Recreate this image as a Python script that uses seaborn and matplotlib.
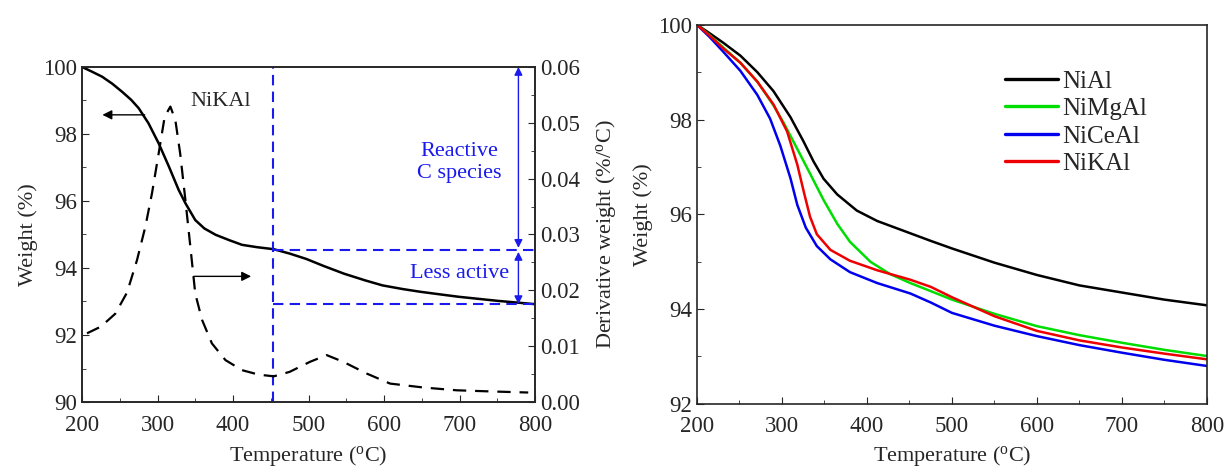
import numpy as np
import pandas as pd
import matplotlib
matplotlib.use("Agg")
import matplotlib.pyplot as plt
from matplotlib.ticker import MultipleLocator
import seaborn as sns

# ---- du lieu: duong TG cua NiKAl (trai) ----
t_nikal = [200, 213, 226.5, 240, 253, 265, 275, 288, 301.5, 315, 328, 337, 350, 362, 377, 395, 412, 432, 454, 475, 497, 520, 547, 575, 598, 625, 648, 675, 699, 750, 800]
w_nikal = [100, 99.86, 99.71, 99.5, 99.26, 99.02, 98.77, 98.32, 97.72, 97.03, 96.33, 95.93, 95.43, 95.18, 94.99, 94.83, 94.69, 94.62, 94.56, 94.43, 94.27, 94.06, 93.83, 93.63, 93.48, 93.37, 93.29, 93.21, 93.14, 93.02, 92.92]

# duong dao ham (DTG)
t_dtg = [206.6, 225, 244, 259.6, 272.8, 283.9, 292.7, 301.5, 309.5, 317, 323.6, 330, 336.9, 343.5, 350, 359, 372, 390, 412, 434, 454, 475, 502, 524, 546, 577, 608, 652, 696, 740, 791]
d_dtg = [0.0123, 0.0135, 0.0158, 0.0196, 0.0254, 0.0314, 0.0374, 0.0445, 0.0511, 0.0529, 0.0505, 0.0445, 0.0362, 0.0278, 0.0194, 0.0147, 0.0105, 0.0075, 0.0057, 0.0049, 0.0046, 0.0054, 0.0072, 0.0084, 0.0072, 0.0051, 0.0033, 0.0026, 0.0021, 0.0019, 0.0017]

# ---- du lieu: 4 mau (phai) ----
t_nial = [200, 215, 231, 251, 271, 290, 310, 325, 337, 349, 365, 388, 412, 451, 475, 500, 550, 600, 650, 700, 750, 800]
w_nial = [100, 99.82, 99.62, 99.35, 99.0, 98.6, 98.05, 97.55, 97.12, 96.75, 96.42, 96.08, 95.86, 95.6, 95.44, 95.28, 94.98, 94.72, 94.5, 94.35, 94.2, 94.08]

t_nimgal = [200, 215, 231, 251, 271, 290, 302, 318, 333, 349, 365, 380, 404, 427, 451, 475, 500, 550, 600, 650, 700, 750, 800]
w_nimgal = [100, 99.78, 99.52, 99.2, 98.8, 98.3, 97.93, 97.38, 96.86, 96.3, 95.8, 95.42, 95.0, 94.74, 94.55, 94.38, 94.2, 93.9, 93.64, 93.45, 93.29, 93.14, 93.01]

t_niceal = [200, 215, 231, 251, 271, 286, 298, 310, 318, 328, 341, 357, 380, 412, 451, 475, 500, 550, 600, 650, 700, 750, 800]
w_niceal = [100, 99.74, 99.43, 99.03, 98.52, 98.02, 97.45, 96.76, 96.2, 95.72, 95.33, 95.05, 94.78, 94.55, 94.33, 94.14, 93.92, 93.65, 93.43, 93.24, 93.08, 92.93, 92.8]

t_nikal_r = [200, 215, 231, 251, 271, 290, 306, 318, 326, 333, 341, 357, 380, 412, 451, 475, 500, 550, 600, 650, 700, 750, 800]
w_nikal_r = [100, 99.77, 99.5, 99.2, 98.8, 98.32, 97.75, 97.05, 96.45, 95.95, 95.58, 95.25, 95.02, 94.82, 94.62, 94.47, 94.25, 93.85, 93.54, 93.34, 93.19, 93.06, 92.94]

sample_names = ['NiAl', 'NiMgAl', 'NiCeAl', 'NiKAl']
sample_colors = ['#000000', '#00dd00', '#0000ee', '#ee0000']

df_right = pd.concat([
    pd.DataFrame({'T': t, 'W': w, 'mau': n})
    for t, w, n in zip([t_nial, t_nimgal, t_niceal, t_nikal_r],
                       [w_nial, w_nimgal, w_niceal, w_nikal_r], sample_names)
], ignore_index=True)

sns.set_style("ticks")
plt.rcParams['font.family'] = ['Liberation Serif', 'DejaVu Serif']
plt.rcParams['mathtext.fontset'] = 'custom'
plt.rcParams['mathtext.rm'] = 'Liberation Serif'
plt.rcParams['mathtext.it'] = 'Liberation Serif:italic'
plt.rcParams['font.size'] = 16

fs_tick = 16.5
fs_lab = 16

fig = plt.figure(figsize=(12.26, 4.68), dpi=100)
ax1 = fig.add_axes([0.0669, 0.141, 0.3695, 0.716])
ax3 = fig.add_axes([0.5685, 0.137, 0.416, 0.81])

blue = '#1a1aee'

# ---- panel trai ----
sns.lineplot(x=t_nikal, y=w_nikal, ax=ax1, color='black', lw=1.8)
ax1.set_xlim(200, 800)
ax1.set_ylim(90, 100)
ax1.set_xlabel('Temperature ($^\\mathrm{o}$C)', fontsize=fs_lab, labelpad=6)
ax1.set_ylabel('Weight (%)', fontsize=fs_lab)
ax1.xaxis.set_major_locator(MultipleLocator(100))
ax1.xaxis.set_minor_locator(MultipleLocator(50))
ax1.yaxis.set_major_locator(MultipleLocator(2))
ax1.yaxis.set_minor_locator(MultipleLocator(1))

ax2 = ax1.twinx()
sns.lineplot(x=t_dtg, y=d_dtg, ax=ax2, color='black', lw=1.6, linestyle=(0, (6, 4)))
ax2.set_ylim(0, 0.06)
ax2.yaxis.set_major_locator(MultipleLocator(0.01))
ax2.yaxis.set_minor_locator(MultipleLocator(0.005))
ax2.yaxis.set_major_formatter(matplotlib.ticker.FormatStrFormatter('%.2f'))
ax2.set_ylabel('Derivative weight (%/$^\\mathrm{o}$C)', fontsize=fs_lab, labelpad=10)

# duong danh dau mau xanh
ax1.axvline(453, color=blue, lw=1.5, ls=(0, (5, 3)))
ax1.plot([453, 800], [94.54, 94.54], color=blue, lw=1.5, ls=(0, (5, 3)))
ax1.plot([453, 800], [92.92, 92.92], color=blue, lw=1.5, ls=(0, (5, 3)))
ax1.annotate('', xy=(778, 100), xytext=(778, 94.6),
             arrowprops=dict(arrowstyle='<|-|>', color=blue, lw=1.0, mutation_scale=12, shrinkA=0, shrinkB=0))
ax1.annotate('', xy=(778, 94.48), xytext=(778, 92.92),
             arrowprops=dict(arrowstyle='<|-|>', color=blue, lw=1.0, mutation_scale=12, shrinkA=0, shrinkB=0))
ax1.text(700, 97.15, 'Reactive\nC species', color=blue, ha='center', va='center', fontsize=16, linespacing=1.25)
ax1.text(700, 93.85, 'Less active', color=blue, ha='center', va='center', fontsize=16)
ax1.text(384, 98.96, 'NiKAl', ha='center', va='center', fontsize=16)

# mui ten den
ax1.annotate('', xy=(227, 98.57), xytext=(283, 98.57),
             arrowprops=dict(arrowstyle='-|>', color='black', lw=1.0, mutation_scale=14, shrinkA=0, shrinkB=0))
ax1.annotate('', xy=(424, 93.75), xytext=(348, 93.75),
             arrowprops=dict(arrowstyle='-|>', color='black', lw=1.0, mutation_scale=14, shrinkA=0, shrinkB=0))

for a in (ax1, ax2):
    a.tick_params(which='both', direction='in', labelsize=fs_tick)
    a.tick_params(which='major', length=5)
    a.tick_params(which='minor', length=3)
    a.tick_params(axis='x', pad=9)
    for s in a.spines.values():
        s.set_linewidth(1.2)
        s.set_visible(True)

# ---- panel phai ----
sns.lineplot(data=df_right, x='T', y='W', hue='mau', palette=sample_colors,
             hue_order=sample_names, ax=ax3, lw=1.8)
ax3.set_xlim(200, 800)
ax3.set_ylim(92, 100)
ax3.xaxis.set_major_locator(MultipleLocator(100))
ax3.xaxis.set_minor_locator(MultipleLocator(50))
ax3.yaxis.set_major_locator(MultipleLocator(2))
ax3.yaxis.set_minor_locator(MultipleLocator(1))
ax3.set_xlabel('Temperature ($^\\mathrm{o}$C)', fontsize=fs_lab, labelpad=5)
ax3.set_ylabel('Weight (%)', fontsize=fs_lab)
ax3.tick_params(which='both', direction='in', labelsize=fs_tick)
ax3.tick_params(which='major', length=5)
ax3.tick_params(which='minor', length=3)
ax3.tick_params(axis='x', pad=9)
for s in ax3.spines.values():
    s.set_linewidth(1.2)
    s.set_visible(True)
leg = ax3.legend(loc='upper left', bbox_to_anchor=(0.56, 0.94), frameon=False,
                 fontsize=18, handlelength=2.1, handletextpad=0.2, labelspacing=0.2)
for ln in leg.get_lines():
    ln.set_linewidth(2.4)

fig.savefig('out.png', dpi=100)
